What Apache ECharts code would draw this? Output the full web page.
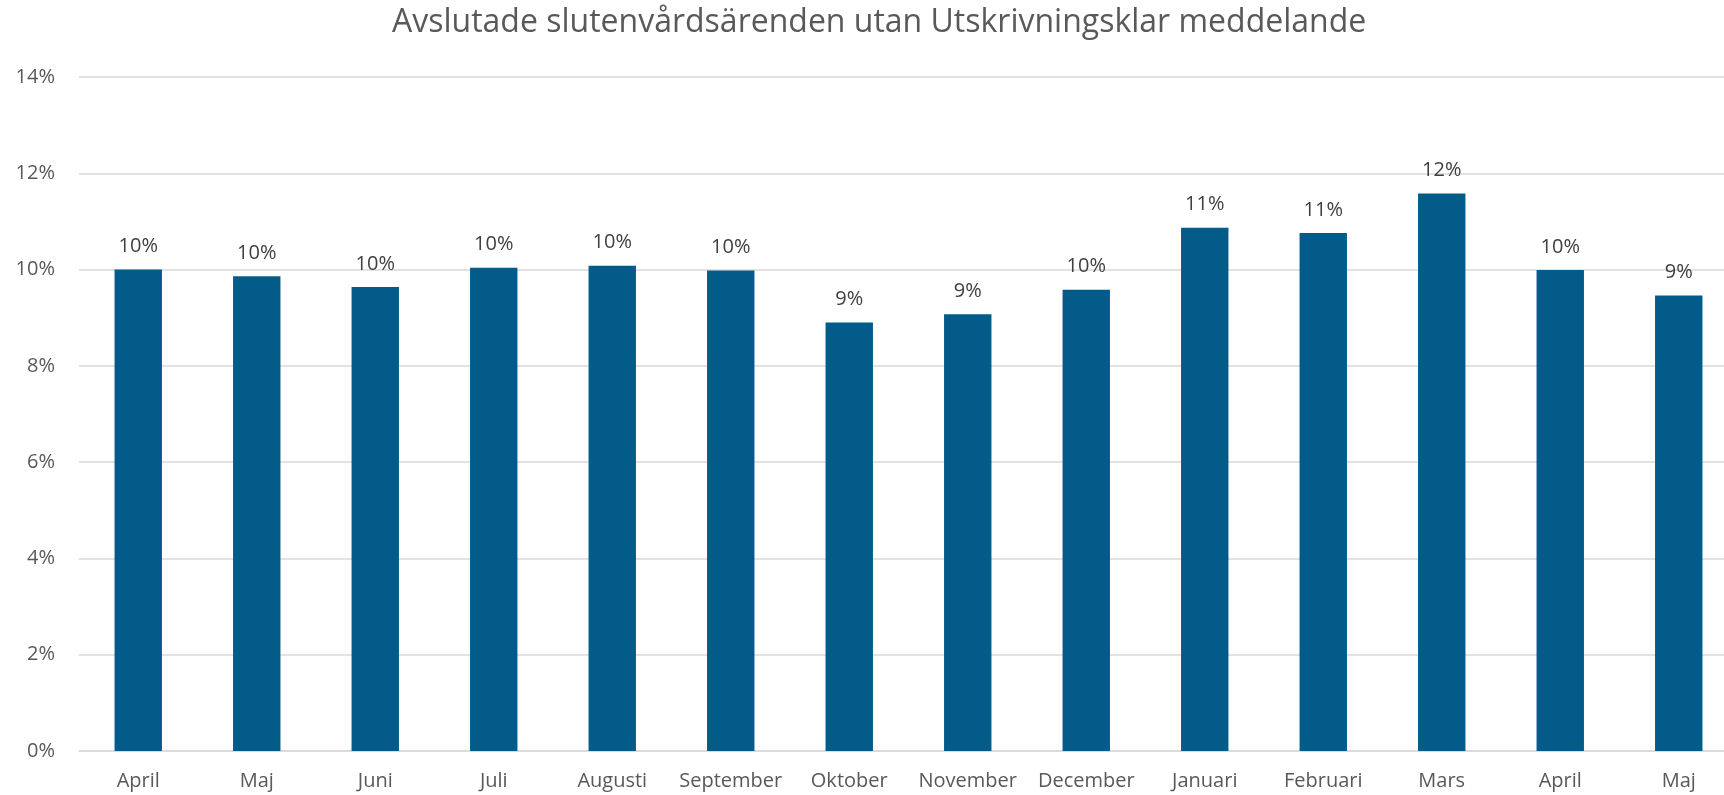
<!DOCTYPE html>
<html>
<head>
<meta charset="utf-8">
<script src="https://cdn.jsdelivr.net/npm/echarts@6/dist/echarts.min.js"></script>
<style>
  html, body { margin: 0; padding: 0; background: #fff; }
  #main { width: 1724px; height: 795px; }
</style>
</head>
<body>
<div id="main"></div>
<script>
// månader (två april/maj – ett helt år plus två)
var months = ['April', 'Maj', 'Juni', 'Juli', 'Augusti', 'September', 'Oktober',
              'November', 'December', 'Januari', 'Februari', 'Mars', 'April', 'Maj'];
// andel i procent, avläst från staplarna
var shares = [10.0, 9.86, 9.64, 10.04, 10.08, 9.98, 8.90, 9.07, 9.58, 10.87, 10.76, 11.58, 9.99, 9.46];
var yTicks = [0, 2, 4, 6, 8, 10, 12, 14];

var font = 'Open Sans';
var myChart = echarts.init(document.getElementById('main'));

var option = {
    animation: false,
    title: {
        text: 'Avslutade slutenvårdsärenden utan Utskrivningsklar meddelande',
        left: 387,
        top: 2,
        textStyle: {
            fontFamily: font,
            fontWeight: 'normal',
            fontSize: 32,
            color: '#595959'
        }
    },
    // plotytan går lite utanför bilden till höger, som i originalet
    grid: {
        left: 79,
        width: 1659,
        top: 77,
        bottom: 44,
        outerBoundsMode: 'none'
    },
    xAxis: {
        type: 'category',
        data: months,
        axisTick: { show: false },
        axisLine: { lineStyle: { color: '#d9d9d9', width: 1.5 } },
        axisLabel: {
            interval: 0,
            margin: 20,
            fontFamily: font,
            fontSize: 20,
            color: '#595959'
        }
    },
    yAxis: {
        type: 'value',
        min: yTicks[0],
        max: yTicks[yTicks.length - 1],
        interval: 2,
        axisLine: { show: false },
        axisTick: { show: false },
        splitLine: { lineStyle: { color: '#d9d9d9', width: 1.5 } },
        axisLabel: {
            margin: 24,
            fontFamily: font,
            fontSize: 20,
            color: '#595959',
            formatter: '{value}%'
        }
    },
    series: [
        {
            type: 'bar',
            data: shares,
            barWidth: '40%',
            itemStyle: { color: '#035b8a' },
            label: {
                show: true,
                position: 'top',
                distance: 13,
                fontFamily: font,
                fontSize: 20,
                color: '#404040',
                formatter: function (p) { return Math.round(p.value) + '%'; }
            }
        }
    ]
};
myChart.setOption(option);
</script>
</body>
</html>
